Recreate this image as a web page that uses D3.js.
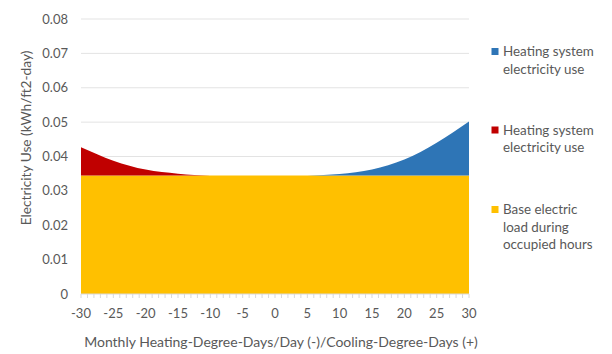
<!DOCTYPE html>
<html>
<head>
<meta charset="utf-8">
<script src="https://cdn.jsdelivr.net/npm/d3@7"></script>
<style>
  html, body { margin: 0; padding: 0; background: #fff; }
  svg { display: block; font-family: Lato, "Open Sans", sans-serif; }
</style>
</head>
<body>
<svg id="chart" width="612" height="354"></svg>
<script>
// Degree-days per day: negative = heating, positive = cooling
const degreeDays = [-30, -25, -20, -15, -10, -5, 0, 5, 10, 15, 20, 25, 30];
// Electricity use, kWh/ft2-day
const baseLoad    = [0.0345, 0.0345, 0.0345, 0.0345, 0.0345, 0.0345, 0.0345, 0.0345, 0.0345, 0.0345, 0.0345, 0.0345, 0.0345];
const heatingUse  = [0.0082, 0.0043, 0.0017, 0.0005, 0, 0, 0, 0, 0, 0, 0, 0, 0];
const coolingUse  = [0, 0, 0, 0, 0, 0, 0, 0, 0.0004, 0.0017, 0.0046, 0.0095, 0.0157];
const xTicks = [-30, -25, -20, -15, -10, -5, 0, 5, 10, 15, 20, 25, 30];
const yTicks = [0, 0.01, 0.02, 0.03, 0.04, 0.05, 0.06, 0.07, 0.08];

const legendLines = [
  ["Heating system", "electricity use"],
  ["Heating system", "electricity use"],
  ["Base electric", "load during", "occupied hours"]
];
const colors = { base: "#ffc000", heat: "#c00000", cool: "#2e75b6" };

const svg = d3.select("#chart");
const plotLeft = 81, plotRight = 469, plotTop = 19, plotBottom = 294;

const x = d3.scaleLinear().domain([-30, 30]).range([plotLeft, plotRight]);
const y = d3.scaleLinear().domain([0, 0.08]).range([plotBottom, plotTop]);

// gridlines
svg.append("g")
  .selectAll("line")
  .data(yTicks.slice(1))
  .join("line")
  .attr("x1", plotLeft).attr("x2", plotRight)
  .attr("y1", d => y(d)).attr("y2", d => y(d))
  .attr("stroke", "#e3e3e3").attr("stroke-width", 1);

// stacked areas
const rows = degreeDays.map((d, i) => ({ dd: d, base: baseLoad[i], heat: heatingUse[i], cool: coolingUse[i] }));
const stack = d3.stack().keys(["base", "heat", "cool"]);
const layers = stack(rows);
const area = d3.area()
  .x(d => x(d.data.dd))
  .y0(d => y(d[0]))
  .y1(d => y(d[1]))
  .curve(d3.curveMonotoneX);

svg.append("g")
  .selectAll("path")
  .data(layers)
  .join("path")
  .attr("d", area)
  .attr("fill", d => colors[d.key]);

// x axis
const xAxis = svg.append("g").attr("transform", `translate(0,${plotBottom})`);
xAxis.append("line").attr("x1", plotLeft).attr("x2", plotRight).attr("stroke", "#d9d9d9");
xAxis.selectAll("line.tick")
  .data(d3.range(-30, 31))
  .join("line")
  .attr("class", "tick")
  .attr("x1", d => x(d)).attr("x2", d => x(d))
  .attr("y1", 0).attr("y2", 4)
  .attr("stroke", "#d9d9d9");
xAxis.selectAll("text")
  .data(xTicks)
  .join("text")
  .attr("x", d => x(d))
  .attr("y", 24)
  .attr("text-anchor", "middle")
  .attr("font-size", 13)
  .attr("fill", "#595959")
  .text(d => d);

// y axis labels
svg.append("g")
  .selectAll("text")
  .data(yTicks)
  .join("text")
  .attr("x", 68)
  .attr("y", d => y(d) + 4.5)
  .attr("text-anchor", "end")
  .attr("font-size", 13)
  .attr("fill", "#595959")
  .text(d => d === 0 ? "0" : d.toFixed(2));

// axis titles
svg.append("text")
  .attr("x", 281).attr("y", 347)
  .attr("text-anchor", "middle")
  .attr("font-size", 14)
  .attr("fill", "#595959")
  .text("Monthly Heating-Degree-Days/Day (-)/Cooling-Degree-Days (+)");

svg.append("text")
  .attr("transform", "translate(31,138) rotate(-90)")
  .attr("text-anchor", "middle")
  .attr("font-size", 13.7)
  .attr("fill", "#595959")
  .text("Electricity Use (kWh/ft2-day)");

// legend
const legendY = [51.5, 130, 209.5];
const legendColors = [colors.cool, colors.heat, colors.base];
const lg = svg.append("g");
legendLines.forEach((lines, i) => {
  lg.append("rect")
    .attr("x", 491.5).attr("y", legendY[i] - 3.5)
    .attr("width", 7).attr("height", 7)
    .attr("fill", legendColors[i]);
  lines.forEach((t, j) => {
    lg.append("text")
      .attr("x", 503).attr("y", legendY[i] + 4.5 + j * 17.7)
      .attr("font-size", 13.4)
      .attr("fill", "#595959")
      .text(t);
  });
});
</script>
</body>
</html>
